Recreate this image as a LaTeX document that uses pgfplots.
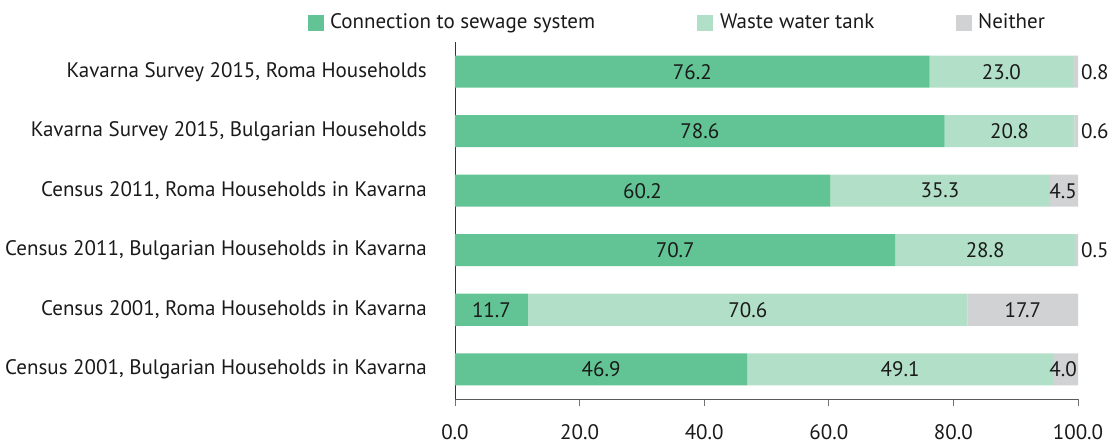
\documentclass[border=0pt]{standalone}
\usepackage{pgfplots}
\pgfplotsset{compat=1.18}
\usepackage{fontspec}
\setmainfont{PT Sans}
\definecolor{cA}{HTML}{62C494}
\definecolor{cB}{HTML}{B2DFC7}
\definecolor{cC}{HTML}{D1D2D4}
\definecolor{txt}{HTML}{1A1A1A}
\pgfplotsset{frame/.style={scale only axis, width=623bp, height=357bp, xmin=0, xmax=100, ymin=-0.5, ymax=5.5}}
\begin{document}
\fontsize{21bp}{25bp}\selectfont%
\begin{tikzpicture}
\begin{axis}[
 name=ax, frame,
 xbar stacked, bar width=32bp,
 axis x line*=bottom, axis y line*=left,
 axis line style={-},
 x axis line style={draw=black!65},
 y axis line style={draw=black!80},
 xtick={0,20,40,60,80,100},
 xticklabels={0.0,20.0,40.0,60.0,80.0,100.0},
 ytick={0,1,2,3,4,5},
 yticklabels={{Census 2001, Bulgarian Households in Kavarna},{Census 2001, Roma Households in Kavarna},{Census 2011, Bulgarian Households in Kavarna},{Census 2011, Roma Households in Kavarna},{Kavarna Survey 2015, Bulgarian Households},{Kavarna Survey 2015, Roma Households}},
 tick align=outside, major tick length=7bp,
 xtick style={draw=black!55, line width=0.8pt},
 ytick style={draw=none},
 xticklabel style={yshift=-11bp, text=txt},
 yticklabel style={xshift=-14bp, text=txt},
 legend style={at={(-0.236,1.053)}, anchor=west, draw=none, fill=none, inner sep=0pt, legend columns=3, column sep=0pt, row sep=0pt, nodes={inner sep=0pt, text=txt}},
 legend image code/.code={\fill[#1] (0bp,-8bp) rectangle (16bp,8bp);},
]
\addplot[fill=cA, draw=none] coordinates {(46.9,0) (11.7,1) (70.7,2) (60.2,3) (78.6,4) (76.2,5)};
\addplot[fill=cB, draw=none] coordinates {(49.1,0) (70.6,1) (28.8,2) (35.3,3) (20.8,4) (23.0,5)};
\addplot[fill=cC, draw=none] coordinates {(4.0,0) (17.7,1) (0.5,2) (4.5,3) (0.6,4) (0.8,5)};
\legend{\makebox[373bp][l]{\hspace{6bp}Connection to sewage system},\makebox[243bp][l]{\hspace{7bp}Waste water tank},\hspace{6bp}Neither}
\end{axis}
\begin{axis}[frame, hide axis]
% centred labels
\addplot[only marks, mark=none, nodes near coords, point meta=explicit symbolic,
  every node near coord/.style={anchor=center, text=txt, inner sep=0pt}] table[meta=l] {
x y l
23.45 0 46.9
5.85 1 11.7
35.35 2 70.7
30.1 3 60.2
39.3 4 78.6
38.1 5 76.2
71.45 0 49.1
47.0 1 70.6
85.1 2 28.8
77.85 3 35.3
89.0 4 20.8
87.7 5 23.0
91.15 1 17.7
};
% labels right of the bars
\addplot[only marks, mark=none, nodes near coords, point meta=explicit symbolic,
  every node near coord/.style={anchor=west, text=txt, inner sep=0pt, xshift=3bp}] table[meta=l] {
x y l
100 2 0.5
100 4 0.6
100 5 0.8
};
% labels inside the thin grey ends
\addplot[only marks, mark=none, nodes near coords, point meta=explicit symbolic,
  every node near coord/.style={anchor=east, text=txt, inner sep=0pt, xshift=-1bp}] table[meta=l] {
x y l
100 0 4.0
100 3 4.5
};
\end{axis}
\pgfresetboundingbox
\path (ax.south west) ++(-455bp,-45bp) rectangle ++(1115bp,444bp);
\end{tikzpicture}
\end{document}
